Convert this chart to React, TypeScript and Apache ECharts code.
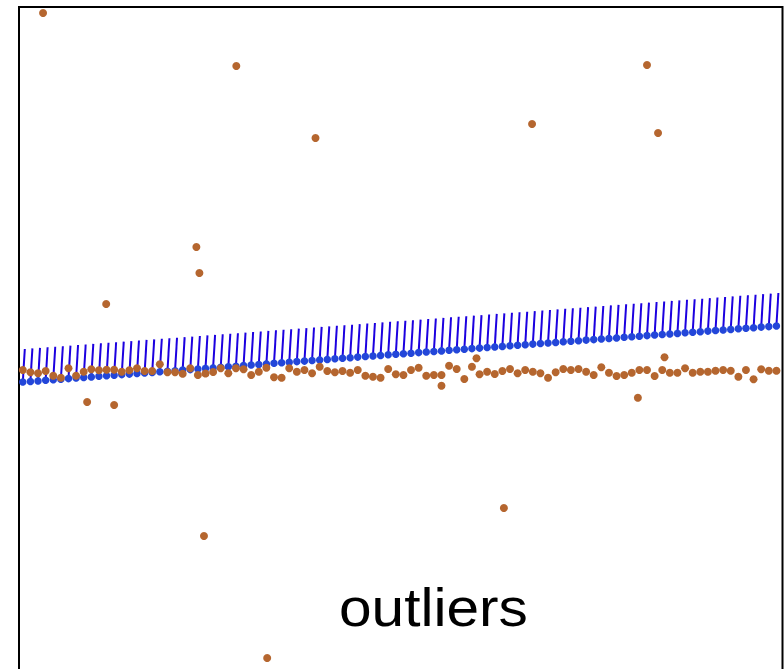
import React, { useEffect, useRef } from "react";
import * as echarts from "echarts";

// x positions of the regular observations
const xs: number[] = Array.from({ length: 100 }, (_, i) => i + 1);

// fitted (blue) values
const fitted: number[] = [
  -0.250, -0.244, -0.239, -0.233, -0.227, -0.222, -0.216, -0.210, -0.205, -0.199,
  -0.193, -0.188, -0.182, -0.176, -0.171, -0.165, -0.159, -0.154, -0.148, -0.143,
  -0.137, -0.131, -0.126, -0.120, -0.114, -0.109, -0.103, -0.097, -0.092, -0.086,
  -0.080, -0.075, -0.069, -0.063, -0.058, -0.052, -0.046, -0.041, -0.035, -0.029,
  -0.024, -0.018, -0.012, -0.007, -0.001, 0.005, 0.010, 0.016, 0.022, 0.027,
  0.033, 0.038, 0.044, 0.050, 0.055, 0.061, 0.067, 0.072, 0.078, 0.084,
  0.089, 0.095, 0.101, 0.106, 0.112, 0.118, 0.123, 0.129, 0.135, 0.140,
  0.146, 0.152, 0.157, 0.163, 0.169, 0.174, 0.180, 0.186, 0.191, 0.197,
  0.203, 0.208, 0.214, 0.220, 0.225, 0.231, 0.236, 0.242, 0.248, 0.253,
  0.259, 0.265, 0.270, 0.276, 0.282, 0.287, 0.293, 0.299, 0.304, 0.310,
];

// observed (brown) values
const observed: number[] = [
  -0.130, -0.153, -0.163, -0.140, -0.187, -0.207, -0.113, -0.187, -0.147, -0.123,
  -0.133, -0.127, -0.127, -0.147, -0.133, -0.113, -0.140, -0.140, -0.073, -0.153,
  -0.153, -0.167, -0.113, -0.180, -0.165, -0.150, -0.113, -0.163, -0.113, -0.123,
  -0.180, -0.147, -0.107, -0.203, -0.207, -0.113, -0.147, -0.130, -0.163, -0.097,
  -0.140, -0.153, -0.140, -0.157, -0.130, -0.187, -0.197, -0.207, -0.120, -0.172,
  -0.180, -0.130, -0.107, -0.187, -0.180, -0.180, -0.087, -0.120, -0.220, -0.097,
  -0.173, -0.147, -0.170, -0.140, -0.120, -0.163, -0.130, -0.147, -0.163, -0.207,
  -0.153, -0.120, -0.130, -0.120, -0.147, -0.180, -0.103, -0.157, -0.190, -0.180,
  -0.157, -0.130, -0.130, -0.190, -0.130, -0.157, -0.157, -0.113, -0.157, -0.147,
  -0.147, -0.137, -0.130, -0.137, -0.197, -0.130, -0.223, -0.123, -0.137, -0.137,
];

// outlying observations
const outlierX: number[] = [
  3.66, 11.95, 9.45, 13.0, 23.8, 24.2, 24.8, 29.05, 33.1, 39.45,
  56.0, 60.6, 64.2, 67.9, 81.8, 83.0, 84.45, 85.3,
];
const outlierY: number[] = [
  3.44, 0.53, -0.45, -0.48, 1.1, 0.84, -1.79, 2.91, -3.01, 2.19,
  -0.287, -0.013, -1.51, 2.33, -0.407, 2.92, 2.24, -0.003,
];

// stem drawn above each fitted point
const STEM_HEIGHT = 0.33;
const STEM_DX = 0.26;

const TITLE = "outliers";

export default function App() {
  const ref = useRef<HTMLDivElement>(null);

  useEffect(() => {
    document.body.style.margin = "0";
    document.body.style.overflow = "hidden";
    if (!ref.current) return;
    const chart = echarts.init(ref.current, null, { renderer: "svg" });

    const stemData = xs.map((x, i) => [x, fitted[i], fitted[i] + STEM_HEIGHT]);
    const fittedData = xs.map((x, i) => [x, fitted[i]]);
    const observedData = xs
      .map((x, i) => [x, observed[i]])
      .concat(outlierX.map((x, i) => [x, outlierY[i]]));

    chart.setOption({
      animation: false,
      backgroundColor: "#ffffff",
      grid: {
        left: 19,
        right: 1.5,
        top: 7,
        height: 700,
        show: true,
        borderColor: "#000000",
        borderWidth: 2,
        backgroundColor: "transparent",
      },
      xAxis: {
        type: "value",
        min: 0.5,
        max: 100.8,
        show: false,
        splitLine: { show: false },
      },
      yAxis: {
        type: "value",
        min: -3.5,
        max: 3.5,
        show: false,
        splitLine: { show: false },
      },
      graphic: [
        {
          type: "text",
          left: 339,
          top: 580,
          style: {
            text: TITLE,
            fontFamily: "Liberation Sans",
            fontSize: 54,
            fill: "#000000",
          },
          scaleX: 1.085,
          z: 100,
        },
      ],
      series: [
        {
          type: "custom",
          data: stemData,
          z: 1,
          renderItem: (params: any, api: any) => {
            const x = api.value(0);
            const p0 = api.coord([x, api.value(1)]);
            const p1 = api.coord([x + STEM_DX, api.value(2)]);
            return {
              type: "line",
              shape: { x1: p0[0], y1: p0[1], x2: p1[0], y2: p1[1] },
              style: { stroke: "#1c00e0", lineWidth: 2 },
            };
          },
        },
        {
          type: "scatter",
          data: fittedData,
          symbol: "circle",
          symbolSize: 7.5,
          itemStyle: { color: "#2346d9", opacity: 1 },
          z: 2,
        },
        {
          type: "scatter",
          data: observedData,
          symbol: "circle",
          symbolSize: 8,
          itemStyle: { color: "#b5662f", opacity: 1 },
          z: 3,
        },
      ],
    });

    return () => {
      chart.dispose();
    };
  }, []);

  return <div ref={ref} style={{ width: 784, height: 720 }} />;
}
